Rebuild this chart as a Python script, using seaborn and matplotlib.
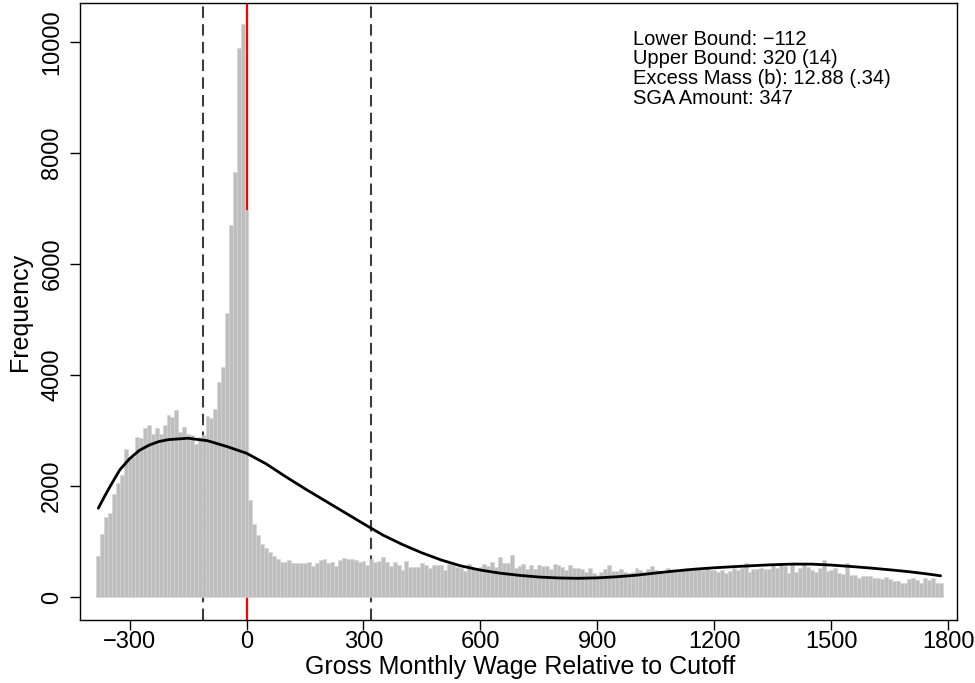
import matplotlib
matplotlib.use("Agg")
import matplotlib.pyplot as plt
import seaborn as sns
import pandas as pd

# bin centres (width 10) and frequencies
bin_centers = list(range(-380, 1790, 10))
counts = [
    730, 1130, 1450, 1510, 1850, 2050, 2200, 2670, 2510, 2530,   # -380..-290
    2890, 2870, 3050, 3090, 2930, 3050, 2930, 3090, 3270, 3250,  # -280..-190
    3370, 2980, 3060, 2940, 2910, 2760, 2890, 2910, 3260, 3220,  # -180..-90
    3390, 3880, 4140, 5110, 6700, 7650, 9890, 10320, 6970, 1740,  # -80..10
    1320, 1120, 955, 890, 805, 740, 680, 625, 625, 660,          # 20..110
    620, 620, 610, 610, 625, 560, 610, 660, 680, 619,            # 120..210
    637, 559, 667, 697, 679, 685, 667, 637, 649, 577,            # 220..310
    679, 637, 655, 727, 637, 559, 637, 577, 487, 649,            # 320..410
    547, 547, 547, 607, 577, 529, 577, 577, 577, 487,            # 420..510
    589, 577, 547, 517, 475, 589, 517, 530, 547, 595,            # 520..610
    559, 637, 535, 727, 619, 619, 757, 517, 559, 595,            # 620..710
    499, 577, 499, 577, 559, 559, 499, 589, 577, 547,            # 720..810
    487, 577, 529, 529, 499, 457, 529, 427, 397, 457,            # 820..910
    499, 571, 469, 469, 499, 450, 435, 457, 517, 487,            # 920..1010
    457, 499, 559, 487, 457, 439, 517, 475, 469, 487,            # 1020..1110
    499, 517, 517, 499, 499, 487, 535, 487, 487, 457,            # 1120..1210
    487, 427, 475, 517, 487, 517, 619, 457, 499, 499,            # 1220..1310
    517, 499, 499, 577, 520, 619, 559, 427, 607, 457,            # 1320..1410
    529, 607, 547, 487, 457, 517, 667, 475, 487, 517,            # 1420..1510
    427, 415, 607, 397, 397, 337, 379, 379, 379, 337,            # 1520..1610
    337, 319, 367, 319, 295, 295, 259, 259, 319, 337,            # 1620..1710
    307, 259, 337, 307, 337, 247, 259,                           # 1720..1780
]

# fitted counterfactual curve, read at intervals
curve_x = [-380, -365, -350, -325, -300, -275, -250, -225, -200, -150, -100,
           -50, 0, 50, 100, 150, 200, 250, 300, 350, 400, 450, 500, 550, 600,
           650, 700, 750, 800, 850, 900, 950, 1000, 1050, 1100, 1150, 1200,
           1250, 1300, 1350, 1400, 1450, 1500, 1550, 1600, 1650, 1700, 1750,
           1780]
curve_y = [1600, 1800, 1990, 2290, 2490, 2640, 2735, 2800, 2835, 2860, 2815,
           2710, 2590, 2400, 2170, 1950, 1740, 1530, 1320, 1115, 945, 795,
           665, 560, 485, 430, 390, 360, 343, 337, 345, 365, 393, 433, 470,
           502, 527, 547, 565, 582, 593, 592, 575, 550, 522, 490, 455, 412,
           382]

bounds = [-112, 320]
cutoff = 0
notes = ["Lower Bound: \u2212112", "Upper Bound: 320 (14)",
         "Excess Mass (b): 12.88 (.34)", "SGA Amount: 347"]
xticks = list(range(-300, 1801, 300))
yticks = list(range(0, 10001, 2000))


def main():
    assert len(counts) == len(bin_centers)
    assert len(curve_x) == len(curve_y)
    sns.set_style('white')
    plt.rcParams['font.family'] = ['Liberation Sans', 'DejaVu Sans']
    plt.rcParams['text.color'] = 'black'
    plt.rcParams['axes.labelcolor'] = 'black'

    fig = plt.figure(figsize=(9.75, 6.83), dpi=100)
    ax = fig.add_axes([80 / 975, 63 / 683, 877 / 975, 617 / 683])

    for b in bounds:
        ax.axvline(b, color='#3c3c3c', lw=1.5, ls=(0, (5.5, 3)), zorder=1)
    ax.axvline(cutoff, color='red', lw=1.6, zorder=1)

    bars = pd.DataFrame({'wage': bin_centers, 'count': counts})
    sns.histplot(data=bars, x='wage', weights='count', binwidth=10,
                 binrange=(bin_centers[0] - 5, bin_centers[-1] + 5),
                 color='#BEBEBE', edgecolor='#D4D4D4', linewidth=0.4,
                 alpha=1, ax=ax, zorder=2)
    sns.lineplot(x=curve_x, y=curve_y, color='black', lw=2, ax=ax, zorder=3)

    ax.set_xlim(-427, 1822)
    ax.set_ylim(-414, 10700)
    ax.set_xticks(xticks)
    ax.set_yticks(yticks)
    ax.tick_params(axis='both', direction='out', length=7, width=1,
                   labelsize=17, bottom=True, left=True, colors='black')
    ax.tick_params(axis='x', pad=1)
    ax.tick_params(axis='y', labelrotation=90, pad=5)
    for lab in ax.get_yticklabels():
        lab.set_va('center')
    for sp in ax.spines.values():
        sp.set_visible(True)
        sp.set_color('black')
        sp.set_linewidth(1)

    ax.set_xlabel('Gross Monthly Wage Relative to Cutoff', fontsize=18)
    ax.set_ylabel('Frequency', fontsize=18)
    ax.xaxis.set_label_coords(0.502, -0.076)
    ax.xaxis.label.set_va('center')
    ax.yaxis.set_label_coords(-0.068, 0.5)
    ax.yaxis.label.set_va('center')

    for i, line in enumerate(notes):
        fig.text(633 / 975, 1 - (39.5 + 19.5 * i) / 683, line,
                 fontsize=14.5, va='center', ha='left')

    fig.savefig('out.png', dpi=100)


if __name__ == '__main__':
    main()
